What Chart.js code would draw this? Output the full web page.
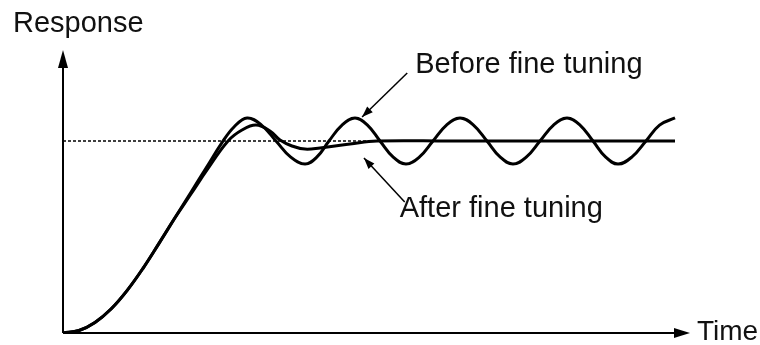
<!DOCTYPE html>
<html>
<head>
<meta charset="utf-8">
<script src="https://cdn.jsdelivr.net/npm/chart.js@4.4.0/dist/chart.umd.min.js"></script>
<style>
  html, body { margin: 0; padding: 0; background: #fff; }
  #wrap { width: 760px; height: 345px; }
</style>
</head>
<body>
<div id="wrap"><canvas id="chart"></canvas></div>
<script>
// response curves (time units, response relative to setpoint = 1)
const beforeTime = [0, 0.255, 0.510, 0.766, 1.021, 1.276, 1.531, 1.786, 2.041, 2.297, 2.536, 2.727, 2.935,
  3.166, 3.397, 3.628, 3.860, 4.051, 4.242, 4.450, 4.657, 4.856, 5.056, 5.263, 5.470, 5.686,
  5.901, 6.116, 6.332, 6.547, 6.762, 6.970, 7.177, 7.392, 7.608, 7.823, 8.038, 8.246, 8.453,
  8.652, 8.852, 9.075, 9.298, 9.514, 9.761];
const beforeResp = [0, 0.013, 0.055, 0.125, 0.221, 0.337, 0.467, 0.600, 0.733, 0.867, 0.992, 1.073, 1.12,
  1.083, 1.0, 0.917, 0.88, 0.917, 1.0, 1.083, 1.12, 1.083, 1.0, 0.917, 0.88, 0.917,
  1.0, 1.083, 1.12, 1.083, 1.0, 0.917, 0.88, 0.917, 1.0, 1.083, 1.12, 1.083, 1.0,
  0.917, 0.88, 0.917, 1.0, 1.083, 1.12];

const afterTime = [0, 0.255, 0.510, 0.766, 1.021, 1.276, 1.531, 1.786, 2.041, 2.297, 2.632, 2.855, 3.078,
  3.301, 3.461, 3.652, 3.860, 4.099, 4.577, 5.008, 6.172, 7.767, 9.761];
const afterResp = [0, 0.013, 0.055, 0.125, 0.221, 0.337, 0.467, 0.600, 0.724, 0.849, 1.0, 1.057, 1.083,
  1.052, 1.005, 0.974, 0.958, 0.964, 0.984, 1.0, 1.0, 1.0, 1.0];

const setpointTime = [0, 9.761];
const setpointResp = [1, 1];

const labels = {
  yAxis: 'Response',
  xAxis: 'Time',
  before: 'Before fine tuning',
  after: 'After fine tuning'
};

function toPoints(xs, ys) {
  return xs.map((x, i) => ({ x: x, y: ys[i] }));
}

function arrowHead(ctx, x1, y1, x2, y2, len, half) {
  const a = Math.atan2(y2 - y1, x2 - x1);
  ctx.beginPath();
  ctx.moveTo(x2, y2);
  ctx.lineTo(x2 - len * Math.cos(a) + half * Math.sin(a), y2 - len * Math.sin(a) - half * Math.cos(a));
  ctx.lineTo(x2 - len * Math.cos(a) - half * Math.sin(a), y2 - len * Math.sin(a) + half * Math.cos(a));
  ctx.closePath();
  ctx.fill();
}

const decorations = {
  id: 'decorations',
  afterDatasetsDraw(chart) {
    const ctx = chart.ctx;
    const area = chart.chartArea;
    const xs = chart.scales.x;
    const ys = chart.scales.y;
    ctx.save();
    ctx.strokeStyle = '#000';
    ctx.fillStyle = '#000';

    // axes with arrows
    ctx.lineWidth = 2;
    ctx.beginPath();
    ctx.moveTo(area.left, area.bottom);
    ctx.lineTo(area.left, area.top + 14);
    ctx.moveTo(area.left, area.bottom);
    ctx.lineTo(area.right - 14, area.bottom);
    ctx.stroke();
    arrowHead(ctx, area.left, area.bottom, area.left, area.top, 18, 5);
    arrowHead(ctx, area.left, area.bottom, area.right, area.bottom, 16, 5);

    // leader lines (tail x, tail y, tip x, tip y) in data units
    ctx.lineWidth = 1.5;
    const leaders = [
      [5.49, 1.354, 4.77, 1.125],
      [5.45, 0.682, 4.80, 0.911]
    ];
    leaders.forEach(l => {
      const x1 = xs.getPixelForValue(l[0]), y1 = ys.getPixelForValue(l[1]);
      const x2 = xs.getPixelForValue(l[2]), y2 = ys.getPixelForValue(l[3]);
      ctx.beginPath();
      ctx.moveTo(x1, y1);
      ctx.lineTo(x2, y2);
      ctx.stroke();
      arrowHead(ctx, x1, y1, x2, y2, 11, 4);
    });

    // texts
    ctx.fillStyle = '#111';
    ctx.textBaseline = 'alphabetic';
    ctx.font = '29px "Liberation Sans", Arial, sans-serif';
    ctx.fillText(labels.yAxis, area.left - 50, area.top - 18);
    ctx.fillText(labels.before, xs.getPixelForValue(5.49) + 8, ys.getPixelForValue(1.354));
    ctx.fillText(labels.after, xs.getPixelForValue(5.45) - 5, ys.getPixelForValue(0.682) + 15);
    ctx.font = '28px "Liberation Sans", Arial, sans-serif';
    ctx.fillText(labels.xAxis, area.right + 7, area.bottom + 7);
    ctx.restore();
  }
};

new Chart(document.getElementById('chart'), {
  type: 'line',
  data: {
    datasets: [
      {
        label: 'Setpoint',
        data: toPoints(setpointTime, setpointResp),
        borderColor: '#000',
        borderWidth: 1.5,
        borderDash: [3, 2],
        tension: 0
      },
      {
        label: 'Before fine tuning',
        data: toPoints(beforeTime, beforeResp),
        borderColor: '#000',
        borderWidth: 3,
        tension: 0.4
      },
      {
        label: 'After fine tuning',
        data: toPoints(afterTime, afterResp),
        borderColor: '#000',
        borderWidth: 3,
        tension: 0.4
      }
    ]
  },
  options: {
    responsive: true,
    maintainAspectRatio: false,
    animation: false,
    layout: { padding: { left: 63, right: 70, top: 50, bottom: 12 } },
    elements: { point: { radius: 0 } },
    plugins: {
      legend: { display: false },
      tooltip: { enabled: false }
    },
    scales: {
      x: { type: 'linear', min: 0, max: 10, display: false },
      y: { min: 0, max: 1.474, display: false }
    }
  },
  plugins: [decorations]
});
</script>
</body>
</html>
